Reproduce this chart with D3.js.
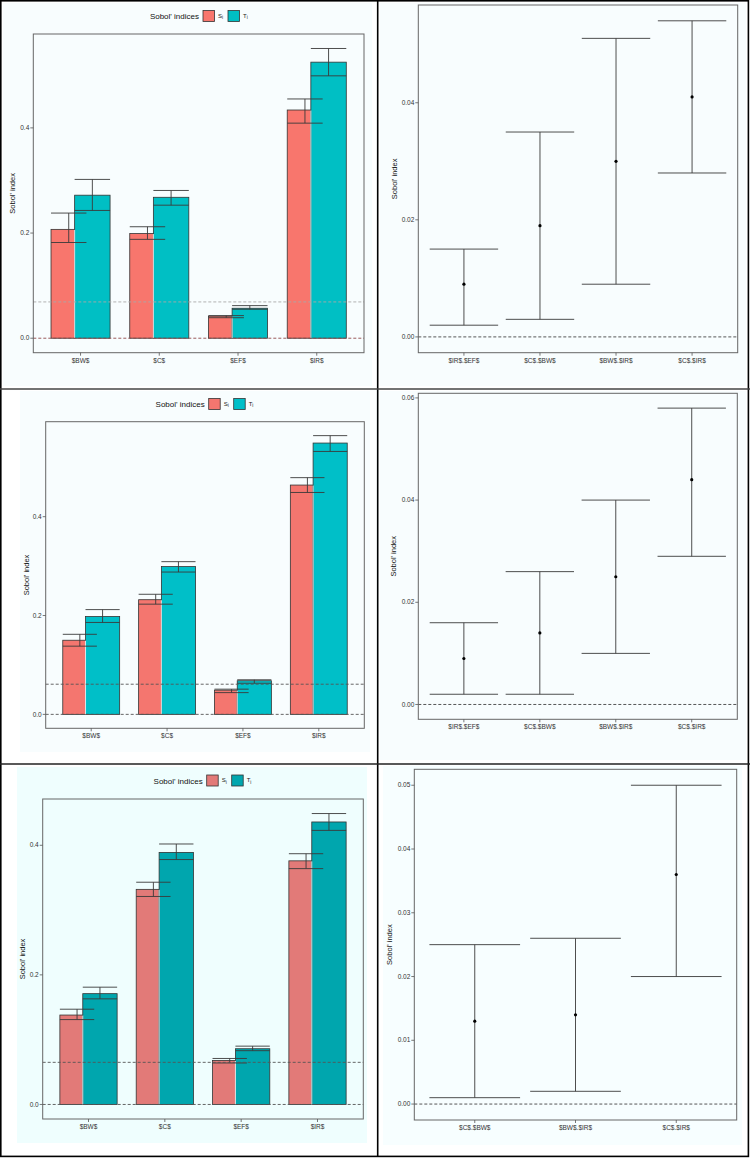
<!doctype html>
<html>
<head>
<meta charset="utf-8">
<title>Sobol' indices</title>
<script src="https://cdn.jsdelivr.net/npm/d3@7/dist/d3.min.js"></script>
<style>
  body { margin: 0; background: #ffffff; }
  svg text { font-family: "Liberation Sans", Arial, sans-serif; }
</style>
</head>
<body>
<script>
// ---- data ----
var vars = ["$BW$", "$C$", "$EF$", "$IR$"];

// row 1
var si1 = [0.207, 0.199, 0.042, 0.434];
var si1Low = [0.182, 0.188, 0.039, 0.409];
var si1High = [0.238, 0.212, 0.043, 0.455];
var ti1 = [0.272, 0.268, 0.057, 0.525];
var ti1Low = [0.243, 0.253, 0.055, 0.499];
var ti1High = [0.302, 0.281, 0.062, 0.551];
var cut1 = 0.069;
var pairs1 = ["$IR$.$EF$", "$C$.$BW$", "$BW$.$IR$", "$C$.$IR$"];
var sij1 = [0.009, 0.019, 0.030, 0.041];
var sij1Low = [0.002, 0.003, 0.009, 0.028];
var sij1High = [0.015, 0.035, 0.051, 0.054];

// row 2
var si2 = [0.150, 0.232, 0.049, 0.464];
var si2Low = [0.138, 0.223, 0.044, 0.449];
var si2High = [0.162, 0.243, 0.051, 0.479];
var ti2 = [0.198, 0.299, 0.068, 0.549];
var ti2Low = [0.186, 0.288, 0.063, 0.532];
var ti2High = [0.212, 0.309, 0.070, 0.564];
var cut2 = 0.061;
var pairs2 = ["$IR$.$EF$", "$C$.$BW$", "$BW$.$IR$", "$C$.$IR$"];
var sij2 = [0.009, 0.014, 0.025, 0.044];
var sij2Low = [0.002, 0.002, 0.010, 0.029];
var sij2High = [0.016, 0.026, 0.040, 0.058];

// row 3
var si3 = [0.138, 0.332, 0.068, 0.376];
var si3Low = [0.131, 0.321, 0.064, 0.364];
var si3High = [0.147, 0.343, 0.071, 0.387];
var ti3 = [0.171, 0.389, 0.086, 0.436];
var ti3Low = [0.163, 0.378, 0.083, 0.423];
var ti3High = [0.181, 0.402, 0.090, 0.449];
var cut3 = 0.065;
var pairs3 = ["$C$.$BW$", "$BW$.$IR$", "$C$.$IR$"];
var sij3 = [0.013, 0.014, 0.036];
var sij3Low = [0.001, 0.002, 0.020];
var sij3High = [0.025, 0.026, 0.050];

// tick labels
var barTicks = [0, 0.2, 0.4];
var pairTicks1 = [0, 0.02, 0.04];
var pairTicks2 = [0, 0.02, 0.04, 0.06];
var pairTicks3 = [0, 0.01, 0.02, 0.03, 0.04, 0.05];

var w = 750, h = 1158;

var svg = d3.select("body").append("svg")
    .attr("width", w)
    .attr("height", h);

// light cell backgrounds
var cells = [
  [3, 3, 372, 386, "#f8fdfe"], [380, 3, 746, 386, "#f8fdfe"],
  [20, 391, 370, 752, "#f8fdfe"], [380, 391, 746, 760, "#f8fdfe"],
  [17, 767, 367, 1143, "#effefe"], [383, 766, 742, 1145, "#f7feff"]
];
svg.selectAll("rect.cell").data(cells).enter().append("rect")
  .attr("class", "cell")
  .attr("x", function(d) { return d[0]; })
  .attr("y", function(d) { return d[1]; })
  .attr("width", function(d) { return d[2] - d[0]; })
  .attr("height", function(d) { return d[3] - d[1]; })
  .attr("fill", function(d) { return d[4]; });

function yAxis(g, y, x0, ticks, fmt) {
  ticks.forEach(function(t) {
    g.append("line").attr("x1", x0 - 3).attr("x2", x0)
      .attr("y1", y(t)).attr("y2", y(t))
      .attr("stroke", "#555").attr("stroke-width", 0.8);
    g.append("text").attr("x", x0 - 4).attr("y", y(t) + 2.2)
      .attr("text-anchor", "end").attr("font-size", "6.5px").attr("fill", "#333")
      .text(d3.format(fmt)(t));
  });
}

function xAxis(g, x, cats, y1) {
  cats.forEach(function(c) {
    g.append("line").attr("x1", x(c)).attr("x2", x(c))
      .attr("y1", y1).attr("y2", y1 + 3)
      .attr("stroke", "#555").attr("stroke-width", 0.8);
    g.append("text").attr("x", x(c)).attr("y", y1 + 10)
      .attr("text-anchor", "middle").attr("font-size", "6.5px").attr("fill", "#333")
      .text(c);
  });
}

function yTitle(g, tx, ty) {
  g.append("text")
    .attr("transform", "translate(" + tx + "," + ty + ") rotate(-90)")
    .attr("text-anchor", "middle").attr("font-size", "7.5px").attr("fill", "#111")
    .text("Sobol' index");
}

function hline(g, y, v, x0, x1, col) {
  g.append("line").attr("x1", x0).attr("x2", x1)
    .attr("y1", y(v)).attr("y2", y(v))
    .attr("stroke", col).attr("stroke-width", 0.9)
    .attr("stroke-dasharray", "3,2");
}

// bar chart of first and total order indices
function drawBars(p) {
  var g = svg.append("g");
  var top = d3.max(p.tiHigh.concat(p.siHigh));
  var pad = top * 0.05;
  var y = d3.scaleLinear().domain([-pad, top + pad]).range([p.y1, p.y0]);
  var x = d3.scalePoint().domain(vars).range([p.x0, p.x1]).padding(0.6);
  var step = x.step();
  var gw = step * 0.75;
  var sw = gw * 0.4;
  var ew = gw * 0.6;

  var rows = vars.map(function(v, i) {
    return { v: v, s: p.si[i], sl: p.siLow[i], sh: p.siHigh[i],
             t: p.ti[i], tl: p.tiLow[i], th: p.tiHigh[i] };
  });

  // S bars
  g.selectAll("rect.s").data(rows).enter().append("rect")
    .attr("x", function(d) { return x(d.v) - gw / 2; })
    .attr("y", function(d) { return y(d.s); })
    .attr("width", sw)
    .attr("height", function(d) { return y(0) - y(d.s); })
    .attr("fill", p.colS).attr("stroke", "#333").attr("stroke-width", 0.8);
  // T bars
  g.selectAll("rect.t").data(rows).enter().append("rect")
    .attr("x", function(d) { return x(d.v) - gw / 2 + sw; })
    .attr("y", function(d) { return y(d.t); })
    .attr("width", gw - sw)
    .attr("height", function(d) { return y(0) - y(d.t); })
    .attr("fill", p.colT).attr("stroke", "#333").attr("stroke-width", 0.8);
  // light seam between the two bars
  g.selectAll("line.seam").data(rows).enter().append("line")
    .attr("x1", function(d) { return x(d.v) - gw / 2 + sw; })
    .attr("x2", function(d) { return x(d.v) - gw / 2 + sw; })
    .attr("y1", function(d) { return y(0); })
    .attr("y2", function(d) { return y(Math.min(d.s, d.t)) + 0.5; })
    .attr("stroke", "#f4fbfb").attr("stroke-width", 0.9);

  // error bars
  rows.forEach(function(d) {
    var sx = x(d.v) - gw / 2 + ew / 2;
    var tx = x(d.v) + gw / 2 - ew / 2;
    [[sx, d.sl, d.sh], [tx, d.tl, d.th]].forEach(function(e) {
      g.append("line").attr("x1", e[0]).attr("x2", e[0])
        .attr("y1", y(e[1])).attr("y2", y(e[2]))
        .attr("stroke", "#3a3a3a").attr("stroke-width", 0.9);
      [e[1], e[2]].forEach(function(val) {
        g.append("line").attr("x1", e[0] - ew / 2).attr("x2", e[0] + ew / 2)
          .attr("y1", y(val)).attr("y2", y(val))
          .attr("stroke", "#3a3a3a").attr("stroke-width", 0.9);
      });
    });
  });

  hline(g, y, p.cut, p.x0, p.x1, p.cutCol);
  hline(g, y, 0, p.x0, p.x1, p.zeroCol);

  g.append("rect").attr("x", p.x0).attr("y", p.y0)
    .attr("width", p.x1 - p.x0).attr("height", p.y1 - p.y0)
    .attr("fill", "none").attr("stroke", "#666").attr("stroke-width", 1);

  yAxis(g, y, p.x0, barTicks, ".1f");
  xAxis(g, x, vars, p.y1);
  yTitle(g, p.titleX, (p.y0 + p.y1) / 2);

  // legend
  var lx = p.legX, ly = p.legY;
  g.append("text").attr("x", lx - 4).attr("y", ly + 3)
    .attr("text-anchor", "end").attr("font-size", "8px").attr("fill", "#111")
    .text("Sobol' indices");
  [[lx, p.colS, "S"], [lx + 25, p.colT, "T"]].forEach(function(k) {
    g.append("rect").attr("x", k[0]).attr("y", ly - 5.5)
      .attr("width", 11.5).attr("height", 11)
      .attr("fill", k[1]).attr("stroke", "#333").attr("stroke-width", 0.8);
    var t = g.append("text").attr("x", k[0] + 15).attr("y", ly + 1.5)
      .attr("font-size", "6px").attr("fill", "#222");
    t.append("tspan").text(k[2]);
    t.append("tspan").attr("font-size", "4.5px").attr("dy", 1.5).text("i");
  });
}

// second order indices with confidence intervals
function drawPairs(p) {
  var g = svg.append("g");
  var top = d3.max(p.high);
  var pad = top * 0.05;
  var y = d3.scaleLinear().domain([-pad, top + pad]).range([p.y1, p.y0]);
  var x = d3.scalePoint().domain(p.cats).range([p.x0, p.x1]).padding(0.6);
  var cw = x.step() * 0.9;

  var rows = p.cats.map(function(c, i) {
    return { c: c, v: p.val[i], lo: p.low[i], hi: p.high[i] };
  });

  hline(g, y, 0, p.x0, p.x1, "#444");

  g.selectAll("line.err").data(rows).enter().append("line")
    .attr("x1", function(d) { return x(d.c); })
    .attr("x2", function(d) { return x(d.c); })
    .attr("y1", function(d) { return y(d.lo); })
    .attr("y2", function(d) { return y(d.hi); })
    .attr("stroke", "#3a3a3a").attr("stroke-width", 0.9);
  rows.forEach(function(d) {
    [d.lo, d.hi].forEach(function(val) {
      g.append("line").attr("x1", x(d.c) - cw / 2).attr("x2", x(d.c) + cw / 2)
        .attr("y1", y(val)).attr("y2", y(val))
        .attr("stroke", "#3a3a3a").attr("stroke-width", 0.9);
    });
  });
  g.selectAll("circle").data(rows).enter().append("circle")
    .attr("cx", function(d) { return x(d.c); })
    .attr("cy", function(d) { return y(d.v); })
    .attr("r", 1.6).attr("fill", "#000");

  g.append("rect").attr("x", p.x0).attr("y", p.y0)
    .attr("width", p.x1 - p.x0).attr("height", p.y1 - p.y0)
    .attr("fill", "none").attr("stroke", "#666").attr("stroke-width", 1);

  yAxis(g, y, p.x0, p.ticks, ".2f");
  xAxis(g, x, p.cats, p.y1);
  yTitle(g, p.titleX, (p.y0 + p.y1) / 2);
}

drawBars({ x0: 33.3, x1: 364, y0: 34, y1: 352.7,
  si: si1, siLow: si1Low, siHigh: si1High, ti: ti1, tiLow: ti1Low, tiHigh: ti1High,
  cut: cut1, colS: "#f8766d", colT: "#00bfc4", cutCol: "#a8a8a8", zeroCol: "#8e4848",
  legX: 203, legY: 16, titleX: 15 });
drawPairs({ x0: 418.3, x1: 737.7, y0: 5, y1: 352.7,
  cats: pairs1, val: sij1, low: sij1Low, high: sij1High, ticks: pairTicks1, titleX: 397 });

drawBars({ x0: 45.7, x1: 364.3, y0: 421.7, y1: 728.3,
  si: si2, siLow: si2Low, siHigh: si2High, ti: ti2, tiLow: ti2Low, tiHigh: ti2High,
  cut: cut2, colS: "#f4766f", colT: "#00bfc8", cutCol: "#555", zeroCol: "#555",
  legX: 208.7, legY: 404, titleX: 28.5 });
drawPairs({ x0: 418.3, x1: 737.3, y0: 393.3, y1: 719.3,
  cats: pairs2, val: sij2, low: sij2Low, high: sij2High, ticks: pairTicks2, titleX: 396 });

drawBars({ x0: 42.7, x1: 363.3, y0: 799, y1: 1119,
  si: si3, siLow: si3Low, siHigh: si3High, ti: ti3, tiLow: ti3Low, tiHigh: ti3High,
  cut: cut3, colS: "#e27a78", colT: "#00a6ae", cutCol: "#555", zeroCol: "#555",
  legX: 206.7, legY: 780.5, titleX: 24.5 });
drawPairs({ x0: 414.3, x1: 736.7, y0: 769.3, y1: 1120,
  cats: pairs3, val: sij3, low: sij3Low, high: sij3High, ticks: pairTicks3, titleX: 392 });

// outer frame and grid lines
var frame = svg.append("g").attr("stroke", "#000").attr("stroke-width", 1.6);
frame.append("rect").attr("x", 0.8).attr("y", 0.8)
  .attr("width", w - 2.4).attr("height", 1155.6).attr("fill", "none");
frame.append("line").attr("x1", 377.7).attr("x2", 377.7).attr("y1", 0).attr("y2", 1157);
frame.append("line").attr("x1", 0).attr("x2", w).attr("y1", 389).attr("y2", 389).attr("stroke", "#444");
frame.append("line").attr("x1", 0).attr("x2", w).attr("y1", 764).attr("y2", 764).attr("stroke", "#222");
</script>
</body>
</html>
